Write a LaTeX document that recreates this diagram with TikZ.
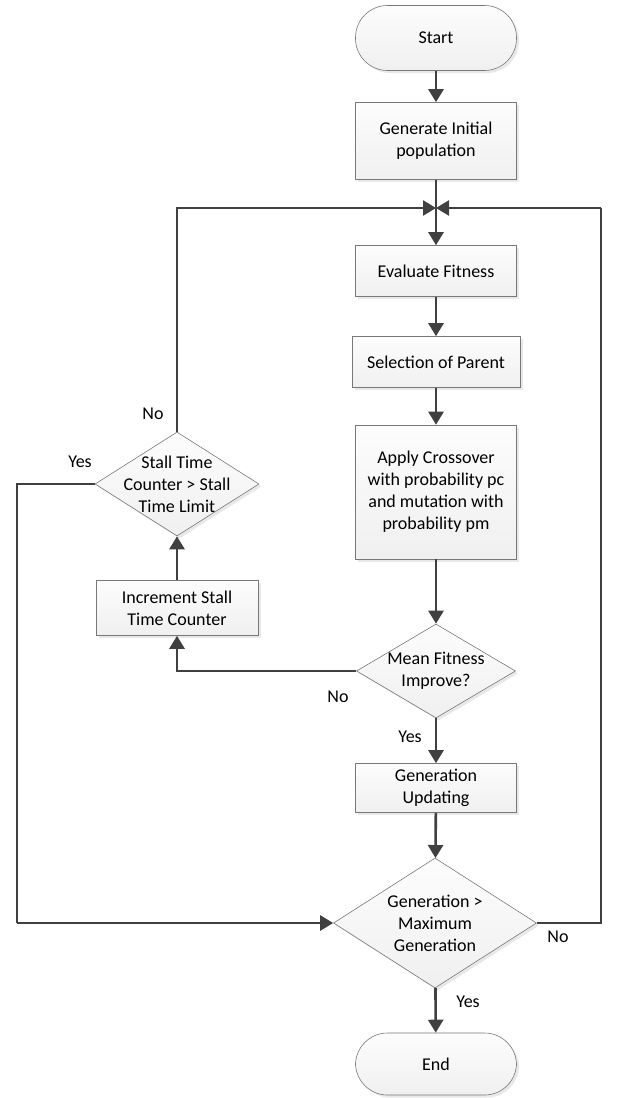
\documentclass[tikz,border=0pt]{standalone}
\usepackage{fontspec}
\setmainfont{Carlito}
\usetikzlibrary{shapes.geometric, arrows, arrows.meta, shadows}
\definecolor{linegray}{RGB}{64,64,64}
\definecolor{edgegray}{RGB}{120,120,120}
\tikzstyle{process} = [rectangle, minimum width=161pt, minimum height=51pt, inner sep=0pt, text centered, align=center, draw=edgegray, line width=0.6pt, top color=gray!2, bottom color=gray!12, drop shadow={shadow xshift=2.5pt, shadow yshift=-2.5pt, opacity=0.18}]
\tikzstyle{terminal} = [process, minimum height=65pt, rounded corners=32pt]
\tikzstyle{decision} = [diamond, inner sep=0pt, draw=edgegray, line width=0.6pt, top color=gray!2, bottom color=gray!12, drop shadow={shadow xshift=2.5pt, shadow yshift=-2.5pt, opacity=0.18}]
\tikzstyle{decisiontext} = [align=center, inner sep=0pt]
\tikzstyle{arrow} = [draw=linegray, line width=2.6pt, -{Triangle[length=13pt, width=15pt]}]
\tikzstyle{plain} = [draw=linegray, line width=2.6pt]
\tikzstyle{answer} = [inner sep=0pt]

\begin{document}
\begin{tikzpicture}[x=1pt, y=-1pt, font=\fontsize{18}{22}\selectfont]
\useasboundingbox (0,0) rectangle (624,1098);
% main column
\node (start) [terminal] at (436,38) {Start};
\node (init) [process, minimum height=77pt] at (436,141) {Generate Initial\\population};
\node (evalfit) [process] at (436,271) {Evaluate Fitness};
\node (select) [process, minimum width=168pt] at (436,362) {Selection of Parent};
\node (cross) [process, minimum height=134pt] at (436,492) {Apply Crossover\\with probability pc\\and mutation with\\probability pm};
\node (improve) [decision, minimum width=159pt, minimum height=94pt] at (436,671) {};
\node (improvetext) [decisiontext] at (improve) {Mean Fitness\\Improve?};
\node (update) [process, minimum height=49pt] at (436,788) {Generation\\Updating};
\node (maxgen) [decision, minimum width=203pt, minimum height=130pt] at (435,923) {};
\node (maxgentext) [decisiontext] at (maxgen) {Generation >\\Maximum\\Generation};
\node (end) [terminal, minimum height=62pt] at (436,1064) {End};
% stall branch
\node (incr) [process, minimum width=162pt, minimum height=55pt] at (177,608) {Increment Stall\\Time Counter};
\node (stall) [decision, minimum width=164pt, minimum height=104pt] at (177,484) {};
\node (stalltext) [decisiontext] at (stall) {Stall Time\\Counter > Stall\\Time Limit};
% corners
\coordinate (join) at (436,208);
\coordinate (backright) at (601,208);
\coordinate (yesleft) at (17,923);

\draw[arrow] (start) -- (init);
\draw[plain] (init) -- (join);
\draw[arrow] (join) -- (evalfit);
\draw[arrow] (evalfit) -- (select);
\draw[arrow] (select) -- (cross);
\draw[arrow] (cross) -- (improve);
\draw[arrow] (improve) -- (update);
\draw[arrow] (update) -- (maxgen);
\draw[arrow] (maxgen) -- (end);
\draw[arrow] (improve.west) -| (incr.south);
\draw[arrow] (incr) -- (stall);
\draw[arrow] (stall.north) |- (join);
\draw[plain] (stall.west) -| (yesleft);
\draw[arrow] (yesleft) -- (maxgen.west);
\draw[plain] (maxgen.east) -| (backright);
\draw[arrow] (backright) -- (join);

\node (stallno) [answer] at (153,414) {No};
\node (stallyes) [answer] at (80,462) {Yes};
\node (improveno) [answer] at (338,697) {No};
\node (improveyes) [answer] at (410,737) {Yes};
\node (maxgenno) [answer] at (558,937) {No};
\node (maxgenyes) [answer] at (468,1002) {Yes};
\end{tikzpicture}
\end{document}
